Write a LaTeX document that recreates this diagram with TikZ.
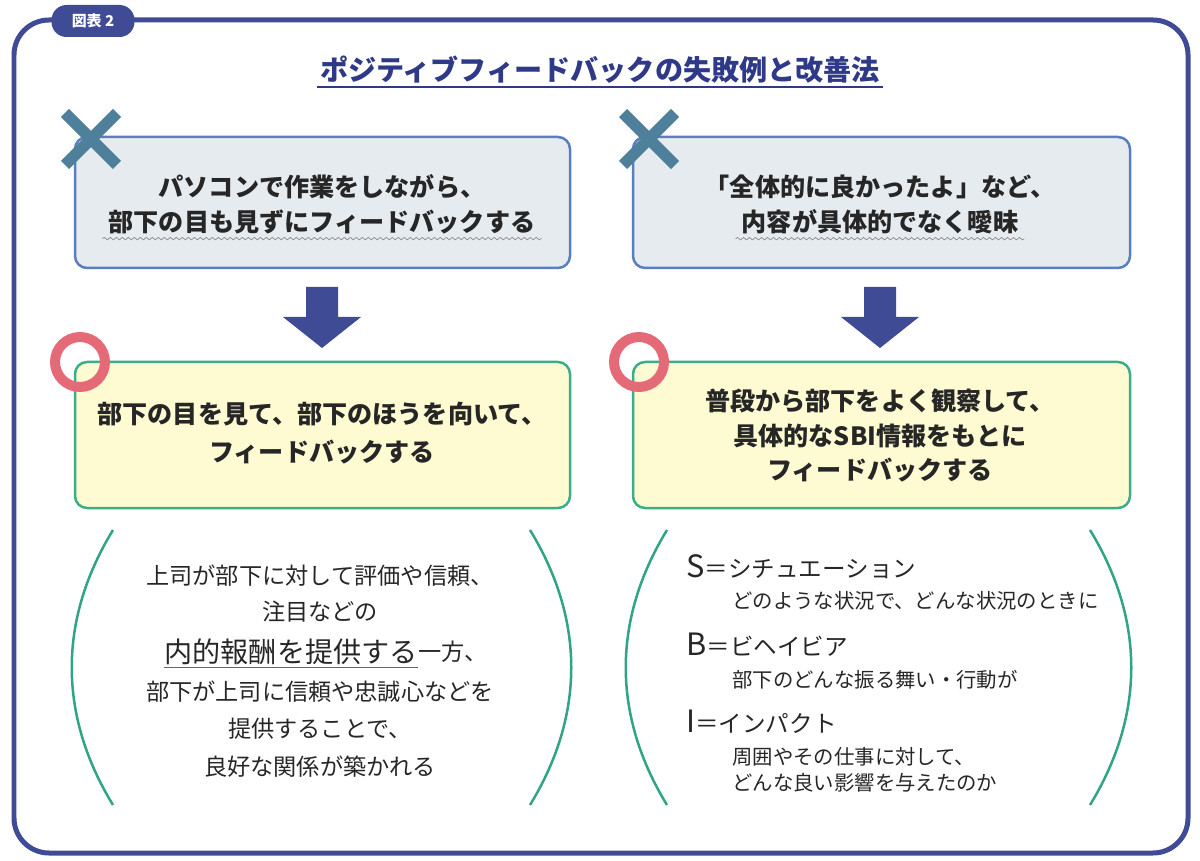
\documentclass[tikz,border=0pt]{standalone}
\usepackage{fontspec}
\setmainfont{Noto Sans CJK JP}
\usetikzlibrary{decorations.pathmorphing}

\definecolor{frameblue}{HTML}{3F4B94}
\definecolor{titleblue}{HTML}{2E3A87}
\definecolor{crossblue}{HTML}{4E7F9B}
\definecolor{nglight}{HTML}{E6EBEF}
\definecolor{ngedge}{HTML}{5A7EBF}
\definecolor{okyellow}{HTML}{FEFBD3}
\definecolor{okgreen}{HTML}{3AAE88}
\definecolor{ringred}{HTML}{E56A77}
\definecolor{bracketgreen}{HTML}{2FA585}

\tikzset{
  boxtext/.style={font=\fontsize{14.3}{16}\selectfont\bfseries, text=black!85},
  bodytext/.style={font=\fontsize{13.2}{15}\selectfont, text=black!85},
  sbihead/.style={font=\fontsize{13.4}{16}\selectfont, text=black!85, anchor=base west, inner sep=0pt},
  sbitext/.style={font=\fontsize{11.6}{14}\selectfont, text=black!85, anchor=base west, inner sep=0pt},
  ngbox/.style={draw=ngedge, fill=nglight, line width=0.05cm, rounded corners=0.24cm},
  okbox/.style={draw=okgreen, fill=okyellow, line width=0.05cm, rounded corners=0.24cm},
  cross/.style={draw=crossblue, line width=0.23cm},
  ring/.style={draw=ringred, line width=0.2cm},
  wavy/.style={draw=black!45, thin, decorate, decoration={snake, amplitude=0.025cm, segment length=0.12cm}},
  bracket/.style={draw=bracketgreen, line width=0.05cm},
}

\begin{document}
\begin{tikzpicture}[x=0.02cm,y=-0.02cm,line join=round]
\useasboundingbox (0,0) rectangle (1200,861);

% frame and title
\draw[frameblue, line width=0.1cm, rounded corners=0.7cm] (14,20) rectangle (1188,853);
\node[fill=frameblue, text=white, rounded corners=0.3cm, minimum width=1.66cm, minimum height=0.64cm,
      font=\fontsize{8.5}{10}\selectfont\bfseries] (tag) at (93,21) {図表 2};
\node[font=\fontsize{16}{18}\selectfont\bfseries, text=titleblue, inner sep=0.06cm] (title) at (600,70)
  {ポジティブフィードバックの失敗例と改善法};
\draw[titleblue, line width=0.03cm] (title.south west) -- (title.south east);

% upper boxes
\draw[ngbox] (75,137) rectangle (570,268);
\draw[ngbox] (633,137) rectangle (1130,268);
\draw[cross] (65,113) -- (117,165);
\draw[cross] (65,165) -- (117,113);
\draw[cross] (623,113) -- (675,165);
\draw[cross] (623,165) -- (675,113);

\node[boxtext] (ngLa) at (322,187) {パソコンで作業をしながら、};
\node[boxtext] (ngLb) at (322,222) {部下の目も見ずにフィードバックする};
\draw[wavy] ([yshift=1pt]ngLb.south west) -- ([yshift=1pt]ngLb.south east);
\node[boxtext] (ngRa) at (880,187) {「全体的に良かったよ」など、};
\node[boxtext] (ngRb) at (880,222) {内容が具体的でなく曖昧};
\draw[wavy] ([yshift=1pt]ngRb.south west) -- ([yshift=1pt]ngRb.south east);

% arrows
\fill[frameblue] (306,287) -- (338,287) -- (338,317) -- (361,317) -- (322,348) -- (283,317) -- (306,317) -- cycle;
\fill[frameblue] (864,287) -- (896,287) -- (896,317) -- (919,317) -- (880,348) -- (841,317) -- (864,317) -- cycle;

% lower boxes
\draw[okbox] (75,362) rectangle (570,508);
\draw[okbox] (633,362) rectangle (1130,508);
\draw[ring] (80,362) circle (0.5cm);
\draw[ring] (639,362) circle (0.5cm);

\node[boxtext] (okLa) at (322,414) {部下の目を見て、部下のほうを向いて、};
\node[boxtext] (okLb) at (322,452) {フィードバックする};
\node[boxtext] (okRa) at (880,401) {普段から部下をよく観察して、};
\node[boxtext] (okRb) at (880,436) {具体的なSBI情報をもとに};
\node[boxtext] (okRc) at (880,470) {フィードバックする};

% brackets
\draw[bracket] (113,530) .. controls (58,620) and (58,715) .. (113,805);
\draw[bracket] (530,530) .. controls (585,620) and (585,715) .. (530,805);
\draw[bracket] (667,530) .. controls (612,620) and (612,715) .. (667,805);
\draw[bracket] (1090,530) .. controls (1145,620) and (1145,715) .. (1090,805);

% left text
\node[bodytext] (bodyA) at (320,576) {上司が部下に対して評価や信頼、};
\node[bodytext] (bodyB) at (320,612) {注目などの};
\node[font=\fontsize{16}{18}\selectfont, text=black!85, anchor=east, inner xsep=0pt, inner ysep=0.05cm] (give) at (418,652) {内的報酬を提供する};
\node[bodytext, anchor=west, inner xsep=0pt] (giveEnd) at (give.east) {一方、};
\draw[black!60, line width=0.6pt] (give.south west) -- (give.south east);
\node[bodytext] (bodyC) at (320,692) {部下が上司に信頼や忠誠心などを};
\node[bodytext] (bodyD) at (320,729) {提供することで、};
\node[bodytext] (bodyE) at (320,767) {良好な関係が築かれる};

% right text
\node[sbihead] (sHead) at (686,577) {{\fontsize{17.5}{17}\selectfont S}＝シチュエーション};
\node[sbitext] (sText) at (732,608) {どのような状況で、どんな状況のときに};
\node[sbihead] (bHead) at (686,655) {{\fontsize{17.5}{17}\selectfont B}＝ビヘイビア};
\node[sbitext] (bText) at (732,687) {部下のどんな振る舞い・行動が};
\node[sbihead] (iHead) at (686,732) {{\fontsize{17.5}{17}\selectfont I}＝インパクト};
\node[sbitext] (iText) at (732,764) {周囲やその仕事に対して、};
\node[sbitext] (iText2) at (732,790) {どんな良い影響を与えたのか};

\end{tikzpicture}
\end{document}
